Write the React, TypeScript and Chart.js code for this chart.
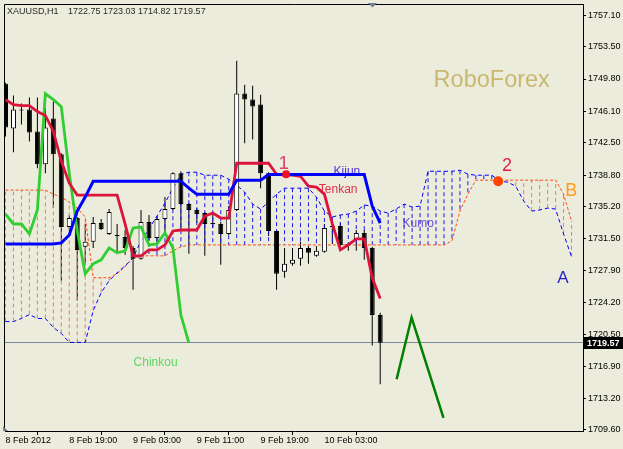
import React, { useEffect, useRef } from "react";
import { Chart, registerables } from "chart.js";

Chart.register(...registerables);

const FONT = '"Liberation Sans", Arial, sans-serif';
const BG = "#ECECDC";

// ---- axis labels ----
const timeTickIdx = [0, 8, 16, 24, 32, 40];
const timeLabels = ["8 Feb 2012", "8 Feb 19:00", "9 Feb 03:00", "9 Feb 11:00", "9 Feb 19:00", "10 Feb 03:00"];
const priceTicks = [1757.1, 1753.5, 1749.8, 1746.1, 1742.5, 1738.8, 1735.2, 1731.5, 1727.9, 1724.2, 1720.5, 1716.9, 1713.2, 1709.6];

const symbolTitle = "XAUUSD,H1";
const lastBarOHLC = [1722.75, 1723.03, 1714.82, 1719.57];
const lastPrice = 1719.57;

// ---- H1 candles ----
const opens = [
  1749.27, 1744.14, 1746.3, 1746.3, 1743.79, 1740.03, 1745.28, 1741.17, 1732.85, 1733.87,
  1730.57, 1731.14, 1733.3, 1732.05, 1731.93, 1731.71, 1730.45, 1729.2, 1733.42, 1731.59,
  1733.76, 1734.9, 1739.01, 1735.47, 1734.79, 1734.44, 1733.3, 1733.19, 1732.05, 1734.79,
  1748.13, 1747.44, 1746.87, 1739.01, 1732.39, 1727.72, 1728.63, 1729.2, 1730.45, 1729.54,
  1730.0, 1732.96, 1732.96, 1730.79, 1731.48, 1732.16, 1730.45, 1722.75,
];
const highs = [
  1749.38, 1747.9, 1746.99, 1747.67, 1747.67, 1746.42, 1747.21, 1741.29, 1734.22, 1733.99,
  1733.19, 1733.99, 1733.76, 1734.9, 1733.19, 1732.5, 1730.68, 1734.79, 1734.22, 1734.1,
  1736.27, 1739.12, 1739.23, 1735.58, 1735.01, 1734.56, 1734.44, 1733.42, 1735.24, 1751.89,
  1749.15, 1749.04, 1748.01, 1739.12, 1732.5, 1730.45, 1730.45, 1731.14, 1730.68, 1730.68,
  1733.19, 1733.19, 1733.3, 1731.02, 1732.5, 1732.5, 1730.57, 1723.03,
];
const lows = [
  1743.22, 1741.4, 1744.59, 1742.65, 1739.58, 1739.01, 1735.01, 1726.69, 1732.39, 1724.41,
  1728.51, 1730.45, 1732.5, 1731.93, 1729.77, 1729.65, 1725.66, 1729.08, 1731.25, 1731.02,
  1731.93, 1734.79, 1732.62, 1729.77, 1733.3, 1729.54, 1732.73, 1728.51, 1731.93, 1734.67,
  1742.43, 1742.88, 1737.29, 1731.82, 1725.66, 1727.03, 1728.4, 1728.4, 1728.63, 1729.43,
  1729.88, 1730.91, 1730.57, 1730.11, 1730.11, 1729.08, 1719.28, 1714.82,
];
const closes = [
  1744.25, 1746.3, 1746.18, 1743.68, 1740.03, 1744.25, 1741.17, 1732.85, 1733.87, 1730.22,
  1731.14, 1733.3, 1732.62, 1734.56, 1731.82, 1730.45, 1729.2, 1733.42, 1731.59, 1733.76,
  1734.9, 1739.01, 1735.47, 1734.79, 1734.33, 1733.19, 1733.19, 1732.05, 1734.79, 1748.13,
  1747.44, 1746.64, 1739.01, 1732.39, 1727.49, 1728.63, 1729.08, 1730.45, 1729.88, 1730.11,
  1732.73, 1732.85, 1730.79, 1730.91, 1732.16, 1730.45, 1722.75, 1719.57,
];

// ---- Ichimoku ----
const tenkan = [
  1747.44, 1746.87, 1746.76, 1746.76, 1746.07, 1745.62, 1743.79, 1740.37, 1737.86, 1736.5,
  1736.5, 1736.5, 1736.5, 1736.5, 1736.5, 1733.19, 1729.54, 1729.54, 1730.22, 1730.22,
  1730.79, 1732.39, 1732.5, 1732.5, 1732.5, 1734.1, 1734.44, 1733.87, 1733.87, 1740.15,
  1740.15, 1740.15, 1740.15, 1740.15, 1738.89, 1738.78, 1738.78, 1738.66, 1737.52, 1737.41,
  1736.61, 1733.19, 1730.22, 1730.79, 1731.48, 1731.48, 1727.03, 1724.64,
];
const kijun = [
  1730.91, 1730.91, 1730.91, 1730.91, 1730.91, 1730.91, 1730.91, 1731.02, 1731.93, 1734.67,
  1736.27, 1738.09, 1738.09, 1738.09, 1738.09, 1738.09, 1738.09, 1738.09, 1738.09, 1738.09,
  1738.09, 1738.09, 1738.09, 1737.29, 1736.61, 1736.61, 1736.61, 1736.61, 1736.61, 1738.21,
  1738.21, 1738.21, 1738.21, 1738.85, 1738.85, 1738.85, 1738.85, 1738.85, 1738.85, 1738.85,
  1738.85, 1738.85, 1738.85, 1738.85, 1738.85, 1738.85, 1735.24, 1733.3,
];
const chinkouShift = 24;
const senkouA = [
  1722.01, 1722.01, 1722.36, 1722.81, 1722.36, 1722.36, 1721.33, 1720.65, 1719.62, 1719.62,
  1719.62, 1723.27, 1725.32, 1726.69, 1727.6, 1728.4, 1729.31, 1731.25, 1732.62, 1734.1,
  1735.58, 1737.29, 1738.89, 1739.12, 1739.12, 1738.78, 1738.78, 1738.78, 1738.32, 1737.64,
  1736.84, 1735.47, 1734.9, 1735.7, 1736.61, 1737.29, 1737.29, 1737.29, 1737.29, 1736.27,
  1734.67, 1733.99, 1734.22, 1734.33, 1734.67, 1735.36, 1735.24, 1734.67, 1734.44, 1734.9,
  1735.47, 1735.13, 1735.24, 1739.23, 1739.23, 1739.23, 1739.23, 1739.35, 1738.89, 1738.78,
  1738.78, 1738.78, 1738.09, 1737.98, 1737.52, 1735.81, 1734.67, 1734.79, 1735.01, 1734.9,
  1732.05, 1729.43,
];
const senkouB = [
  1737.07, 1737.07, 1737.07, 1737.07, 1737.07, 1737.07, 1736.61, 1736.27, 1735.7, 1735.01,
  1734.0, 1727.03, 1727.03, 1727.03, 1727.49, 1728.29, 1729.31, 1729.54, 1729.54, 1729.54,
  1729.54, 1730.11, 1730.57, 1730.79, 1730.79, 1730.79, 1730.79, 1730.79, 1730.79, 1730.79,
  1730.79, 1730.79, 1730.79, 1730.79, 1730.79, 1730.79, 1730.79, 1730.79, 1730.79, 1730.79,
  1730.79, 1730.79, 1730.79, 1730.79, 1730.79, 1730.79, 1730.79, 1730.79, 1730.79, 1730.79,
  1730.79, 1730.79, 1730.79, 1730.79, 1730.79, 1730.79, 1731.25, 1734.67, 1736.61, 1738.21,
  1738.21, 1738.21, 1738.21, 1738.21, 1738.21, 1738.21, 1738.21, 1738.21, 1738.21, 1738.21,
  1736.61, 1733.53,
];

// ---- markup ----
const signalX = [35.2, 61.8];
const signalY = [1738.89, 1738.09];
const zigzagX = [49.06, 50.94, 54.94];
const zigzagY = [1715.4, 1722.47, 1710.96];

const notes = [
  { text: "RoboForex", x: 53.7, y: 1748.93, color: "#C8B870", size: 23.5, align: "left" },
  { text: "Kijun", x: 41.15, y: 1738.78, color: "#5533DD", size: 12, align: "left" },
  { text: "Tenkan", x: 39.3, y: 1736.72, color: "#E0304A", size: 12, align: "left" },
  { text: "Kumo", x: 49.8, y: 1732.79, color: "#6A50D0", size: 12, align: "left" },
  { text: "Chinkou", x: 16.06, y: 1716.88, color: "#5ED85E", size: 12, align: "left" },
  { text: "B", x: 70.2, y: 1736.38, color: "#FF9A1A", size: 18, align: "left" },
  { text: "A", x: 69.2, y: 1726.46, color: "#2222CC", size: 17, align: "left" },
  { text: "1", x: 34.9, y: 1739.46, color: "#E0406A", size: 19, align: "center" },
  { text: "2", x: 62.9, y: 1739.23, color: "#DC1E46", size: 18, align: "center" },
];

const xMin = -0.0625;
const xMax = xMin + 580 / 8;
const yMin = 1709.47;
const yMax = 1758.28;

const decor = {
  id: "decor",
  beforeDraw(chart: any) {
    const ctx = chart.ctx;
    ctx.save();
    ctx.fillStyle = BG;
    ctx.fillRect(0, 0, chart.width, chart.height);
    ctx.restore();
  },
  beforeDatasetsDraw(chart: any) {
    const { ctx, chartArea: a, scales } = chart;
    const x = scales.x, y = scales.y;
    ctx.save();
    const py = Math.floor(y.getPixelForValue(lastPrice)) + 0.5;
    ctx.strokeStyle = "#7A8A98";
    ctx.lineWidth = 1;
    ctx.beginPath();
    ctx.moveTo(a.left, py);
    ctx.lineTo(a.right, py);
    ctx.stroke();
    ctx.textBaseline = "alphabetic";
    for (const n of notes) {
      ctx.font = `${n.size}px ${FONT}`;
      ctx.fillStyle = n.color;
      ctx.textAlign = n.align as CanvasTextAlign;
      ctx.fillText(n.text, x.getPixelForValue(n.x), y.getPixelForValue(n.y));
    }
    ctx.font = `9px ${FONT}`;
    ctx.fillStyle = "#2A2A2A";
    ctx.textAlign = "left";
    ctx.fillText(symbolTitle, 7, 14);
    ctx.fillText(lastBarOHLC.map((v) => v.toFixed(2)).join(" "), 68, 14);
    ctx.restore();
  },
  afterDraw(chart: any) {
    const { ctx, chartArea: a, scales } = chart;
    const y = scales.y;
    ctx.save();
    ctx.strokeStyle = "#000";
    ctx.lineWidth = 1;
    ctx.beginPath();
    ctx.moveTo(a.left - 0.5, a.bottom);
    ctx.lineTo(a.left - 0.5, a.top - 0.5);
    ctx.lineTo(a.right + 1, a.top - 0.5);
    ctx.stroke();
    const pv = Math.floor(y.getPixelForValue(lastPrice));
    ctx.fillStyle = "#000";
    ctx.fillRect(a.right + 1, pv - 5, chart.width - a.right - 1, 12);
    ctx.fillStyle = "#FFF";
    ctx.font = `bold 9px ${FONT}`;
    ctx.textAlign = "left";
    ctx.textBaseline = "middle";
    ctx.fillText(lastPrice.toFixed(2), a.right + 4, pv + 1.5);
    ctx.fillStyle = "#708090";
    ctx.beginPath();
    ctx.moveTo(368, 3);
    ctx.lineTo(377, 3);
    ctx.lineTo(372.5, 7.5);
    ctx.closePath();
    ctx.fill();
    ctx.beginPath();
    ctx.moveTo(3, 426);
    ctx.lineTo(3, 431);
    ctx.lineTo(8, 431);
    ctx.closePath();
    ctx.fill();
    ctx.restore();
  },
};

export default function App() {
  const ref = useRef<HTMLCanvasElement>(null);
  useEffect(() => {
    if (!ref.current) return;
    const idx = opens.map((_, i) => i);
    const wicks = idx.map((i) => ({ x: i, y: [lows[i], highs[i]] }));
    const bodies = idx.map((i) => ({ x: i, y: [opens[i], closes[i]] }));
    const bodyFill = idx.map((i) => (closes[i] >= opens[i] ? "#FFFFFF" : "#000000"));
    const blueHatch: any[] = [];
    const orangeHatch: any[] = [];
    senkouA.forEach((a, i) => {
      const b = senkouB[i];
      const t = a >= b ? blueHatch : orangeHatch;
      t.push({ x: i, y: a }, { x: i, y: b }, { x: i, y: null });
    });
    const pts = (arr: number[]) => arr.map((v, i) => ({ x: i, y: v }));
    const chinkou = closes.slice(chinkouShift).map((c, i) => ({ x: i, y: c }));
    const lineBase = { type: "line", pointRadius: 0, fill: false, tension: 0, spanGaps: false };
    const tickFont = { family: FONT, size: 9 };

    const chart = new Chart(ref.current, {
      type: "line",
      data: {
        datasets: [
          { type: "bar", data: wicks, backgroundColor: "#000", borderWidth: 0, barThickness: 1, grouped: false, inflateAmount: 0, order: 10 } as any,
          { ...lineBase, data: blueHatch, borderColor: "#1A1AF0", borderWidth: 1, borderDash: [4, 3], order: 9 } as any,
          { ...lineBase, data: orangeHatch, borderColor: "#F47A5A", borderWidth: 1, borderDash: [4, 3], order: 9 } as any,
          { ...lineBase, data: pts(senkouA), borderColor: "#0000FF", borderWidth: 1, borderDash: [4, 3], order: 8 } as any,
          { ...lineBase, data: pts(senkouB), borderColor: "#FF4A10", borderWidth: 1, borderDash: [3, 2], order: 8 } as any,
          { type: "bar", data: bodies, backgroundColor: bodyFill, borderColor: "#000", borderWidth: 1, borderSkipped: false, barThickness: 5, grouped: false, inflateAmount: 0, order: 7 } as any,
          { ...lineBase, data: chinkou, borderColor: "#32CD32", borderWidth: 2.8, order: 6 } as any,
          { ...lineBase, data: pts(tenkan), borderColor: "#DC143C", borderWidth: 2.8, order: 5 } as any,
          { ...lineBase, data: pts(kijun), borderColor: "#0000FF", borderWidth: 3, order: 4 } as any,
          { ...lineBase, data: zigzagX.map((v, i) => ({ x: v, y: zigzagY[i] })), borderColor: "#008000", borderWidth: 2.5, order: 3 } as any,
          { type: "line", showLine: false, data: signalX.map((v, i) => ({ x: v, y: signalY[i] })), pointRadius: [4, 5], pointBackgroundColor: ["#EE1122", "#FF4400"], pointBorderWidth: 0, order: 2 } as any,
        ],
      },
      options: {
        responsive: false,
        animation: false,
        devicePixelRatio: 1,
        events: [],
        layout: { padding: { left: 3, top: 3, right: 0, bottom: 0 } },
        plugins: { legend: { display: false }, tooltip: { enabled: false } },
        scales: {
          x: {
            type: "linear",
            min: xMin,
            max: xMax,
            offset: false,
            afterBuildTicks: (s: any) => {
              s.ticks = timeTickIdx.map((v) => ({ value: v }));
            },
            afterFit: (s: any) => {
              s.height = 18;
              s.paddingLeft = 0;
              s.paddingRight = 0;
            },
            ticks: {
              autoSkip: false,
              maxRotation: 0,
              minRotation: 0,
              align: "start",
              padding: 0,
              color: "#000",
              font: tickFont,
              callback: (v: any) => {
                const k = timeTickIdx.indexOf(Number(v));
                return k >= 0 ? timeLabels[k] : "";
              },
            },
            grid: { drawOnChartArea: false, drawTicks: true, tickLength: 4, color: "#000", lineWidth: 1 },
            border: { display: true, color: "#000", width: 1 },
          },
          y: {
            type: "linear",
            position: "right",
            min: yMin,
            max: yMax,
            afterBuildTicks: (s: any) => {
              s.ticks = priceTicks.map((v) => ({ value: v }));
            },
            afterFit: (s: any) => {
              s.width = 40;
              s.paddingTop = 0;
              s.paddingBottom = 0;
            },
            ticks: {
              autoSkip: false,
              padding: 2,
              color: "#000",
              font: tickFont,
              callback: (v: any) => Number(v).toFixed(2),
            },
            grid: { drawOnChartArea: false, drawTicks: true, tickLength: 3, color: "#000", lineWidth: 1 },
            border: { display: true, color: "#000", width: 1 },
          },
        },
      } as any,
      plugins: [decor as any],
    });
    return () => chart.destroy();
  }, []);

  return (
    <div style={{ position: "absolute", left: 0, top: 0, width: 623, height: 449 }}>
      <canvas ref={ref} width={623} height={449} style={{ display: "block", width: 623, height: 449 }} />
    </div>
  );
}
